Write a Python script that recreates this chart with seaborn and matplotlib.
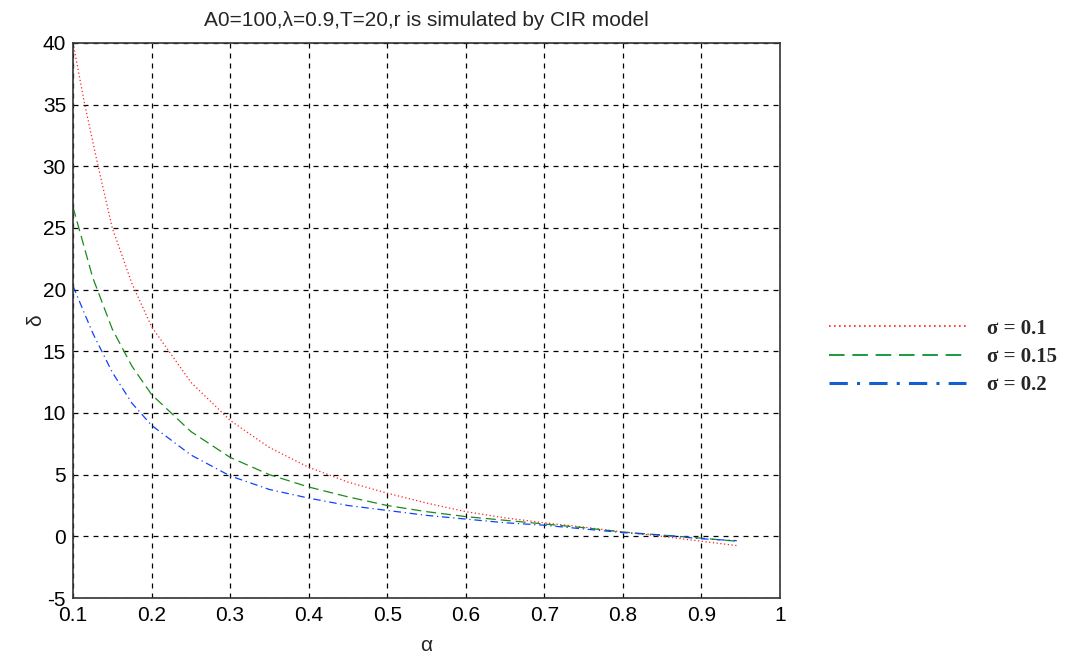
import numpy as np
import pandas as pd
import matplotlib
matplotlib.use("Agg")
import matplotlib.pyplot as plt
import seaborn as sns
from matplotlib.lines import Line2D

alpha_red = [0.1, 0.115, 0.132, 0.15, 0.175, 0.2, 0.25, 0.3, 0.35, 0.4, 0.45, 0.5, 0.55, 0.6, 0.65, 0.7, 0.75, 0.8, 0.85, 0.9, 0.945]
delta_red = [40, 35, 30, 25, 20.5, 17, 12.5, 9.4, 7.2, 5.6, 4.4, 3.5, 2.7, 2.0, 1.5, 1.1, 0.75, 0.35, 0.0, -0.4, -0.75]

alpha_common = [0.1, 0.125, 0.15, 0.175, 0.2, 0.25, 0.3, 0.35, 0.4, 0.45, 0.5, 0.55, 0.6, 0.65, 0.7, 0.75, 0.8, 0.85, 0.9, 0.945]
delta_green = [26.7, 21, 16.8, 13.8, 11.5, 8.5, 6.4, 5.0, 4.0, 3.2, 2.5, 2.0, 1.6, 1.3, 1.0, 0.7, 0.35, 0.1, -0.15, -0.4]
delta_blue = [20.3, 16.5, 13.3, 10.8, 9.0, 6.6, 4.9, 3.8, 3.1, 2.5, 2.1, 1.7, 1.4, 1.1, 0.9, 0.6, 0.3, 0.1, -0.2, -0.35]

labels = ["σ = 0.1", "σ = 0.15", "σ = 0.2"]

x_ticks = [0.1, 0.2, 0.3, 0.4, 0.5, 0.6, 0.7, 0.8, 0.9, 1]
y_ticks = [-5, 0, 5, 10, 15, 20, 25, 30, 35, 40]

df = pd.concat([
    pd.DataFrame({"alpha": alpha_red, "delta": delta_red, "s": labels[0]}),
    pd.DataFrame({"alpha": alpha_common, "delta": delta_green, "s": labels[1]}),
    pd.DataFrame({"alpha": alpha_common, "delta": delta_blue, "s": labels[2]}),
])

sns.set_style("white")
plt.rcParams["font.family"] = ["Liberation Sans", "DejaVu Sans"]
plt.rcParams["axes.unicode_minus"] = False

fig = plt.figure(figsize=(10.68, 6.61), dpi=100)
ax = fig.add_axes([73/1068, 1 - 598/661, (780-73)/1068, (598-43)/661])

palette = {labels[0]: "#ff2020", labels[1]: "#1a8a1a", labels[2]: "#1040ff"}
dashes = {labels[0]: (1, 2), labels[1]: (8, 4), labels[2]: (6, 3, 1, 3)}
sns.lineplot(data=df, x="alpha", y="delta", hue="s", style="s", palette=palette,
             dashes=dashes, linewidth=0.9, ax=ax, sort=True, legend=False)

ax.set_xlim(0.1, 1)
ax.set_ylim(-5, 40)
ax.set_xticks(x_ticks)
ax.set_xticklabels([f"{v:g}" for v in x_ticks])
ax.set_yticks(y_ticks)
ax.set_yticklabels([f"{v:g}" for v in y_ticks])
ax.grid(True, color="black", linestyle=(0, (4, 4)), linewidth=0.9)
ax.tick_params(direction="in", length=5, labelsize=15, colors="black", width=1)
ax.tick_params(axis="x", pad=6)
ax.tick_params(axis="y", pad=5)
for sp in ax.spines.values():
    sp.set_color("#333333")
    sp.set_linewidth(1.2)
ax.set_xlabel("α", fontsize=15, labelpad=8)
ax.set_ylabel("δ", fontsize=15, labelpad=-2)
ax.set_title("A0=100,λ=0.9,T=20,r is simulated by CIR model", fontsize=15, pad=12)

handles = [
    Line2D([], [], color="#ff2020", linestyle=(0, (1, 2)), linewidth=1.2),
    Line2D([], [], color="#1a9a40", linestyle=(0, (8, 4)), linewidth=1.4),
    Line2D([], [], color="#1060d0", linestyle=(0, (6, 3, 1, 3)), linewidth=2.2),
]
leg = fig.legend(handles, labels, loc="center left", bbox_to_anchor=(810/1068, 1 - 357/661),
                 frameon=False, handlelength=6.6, labelspacing=0.4, handletextpad=1.0,
                 prop={"family": "Liberation Serif", "weight": "bold", "size": 15})

fig.savefig("out.png", dpi=100)
